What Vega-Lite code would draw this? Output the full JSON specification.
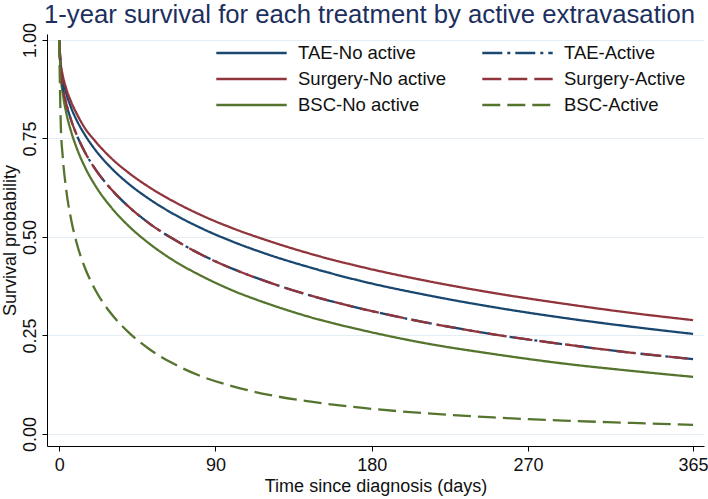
{
  "$schema": "https://vega.github.io/schema/vega-lite/v6.json",
  "width": 657,
  "height": 412,
  "autosize": {"type": "none"},
  "padding": {"left": 47, "top": 34, "right": 4, "bottom": 53},
  "background": "white",
  "title": {
    "text": "1-year survival for each treatment by active extravasation",
    "anchor": "start",
    "frame": "group",
    "font": "Liberation Sans",
    "fontSize": 25.7,
    "fontWeight": "normal",
    "color": "#1c2f5e",
    "baseline": "alphabetic",
    "offset": 9,
    "dx": -3,
    "dy": 35
  },
  "config": {
    "view": {"stroke": null},
    "axis": {
      "domainColor": "#000000",
      "domainWidth": 1,
      "tickColor": "#000000",
      "tickWidth": 1,
      "tickSize": 5,
      "labelFont": "Liberation Sans",
      "labelFontSize": 18,
      "labelColor": "#111111",
      "titleFont": "Liberation Sans",
      "titleFontSize": 18,
      "titleFontWeight": "normal",
      "titleColor": "#111111"
    }
  },
  "datasets": {
    "curves": [
      {"t":0,"s":1,"series":"TAE-No active"},{"t":1,"s":0.931,"series":"TAE-No active"},{"t":2,"s":0.904,"series":"TAE-No active"},{"t":4,"s":0.866,"series":"TAE-No active"},{"t":7,"s":0.827,"series":"TAE-No active"},{"t":10,"s":0.797,"series":"TAE-No active"},{"t":15,"s":0.758,"series":"TAE-No active"},{"t":21,"s":0.72,"series":"TAE-No active"},{"t":30,"s":0.675,"series":"TAE-No active"},{"t":40,"s":0.635,"series":"TAE-No active"},{"t":52,"s":0.596,"series":"TAE-No active"},{"t":66,"s":0.558,"series":"TAE-No active"},{"t":82,"s":0.522,"series":"TAE-No active"},{"t":100,"s":0.488,"series":"TAE-No active"},{"t":120,"s":0.456,"series":"TAE-No active"},{"t":145,"s":0.422,"series":"TAE-No active"},{"t":175,"s":0.387,"series":"TAE-No active"},{"t":210,"s":0.354,"series":"TAE-No active"},{"t":250,"s":0.322,"series":"TAE-No active"},{"t":290,"s":0.295,"series":"TAE-No active"},{"t":330,"s":0.272,"series":"TAE-No active"},{"t":365,"s":0.254,"series":"TAE-No active"},
      {"t":0,"s":1,"series":"Surgery-No active"},{"t":1,"s":0.937,"series":"Surgery-No active"},{"t":2,"s":0.912,"series":"Surgery-No active"},{"t":4,"s":0.878,"series":"Surgery-No active"},{"t":7,"s":0.842,"series":"Surgery-No active"},{"t":10,"s":0.814,"series":"Surgery-No active"},{"t":15,"s":0.775,"series":"Surgery-No active"},{"t":21,"s":0.742,"series":"Surgery-No active"},{"t":30,"s":0.7,"series":"Surgery-No active"},{"t":40,"s":0.663,"series":"Surgery-No active"},{"t":52,"s":0.626,"series":"Surgery-No active"},{"t":66,"s":0.59,"series":"Surgery-No active"},{"t":82,"s":0.555,"series":"Surgery-No active"},{"t":100,"s":0.522,"series":"Surgery-No active"},{"t":120,"s":0.491,"series":"Surgery-No active"},{"t":145,"s":0.457,"series":"Surgery-No active"},{"t":175,"s":0.423,"series":"Surgery-No active"},{"t":210,"s":0.39,"series":"Surgery-No active"},{"t":250,"s":0.358,"series":"Surgery-No active"},{"t":290,"s":0.331,"series":"Surgery-No active"},{"t":330,"s":0.307,"series":"Surgery-No active"},{"t":365,"s":0.289,"series":"Surgery-No active"},
      {"t":0,"s":1,"series":"BSC-No active"},{"t":1,"s":0.904,"series":"BSC-No active"},{"t":2,"s":0.867,"series":"BSC-No active"},{"t":4,"s":0.817,"series":"BSC-No active"},{"t":7,"s":0.766,"series":"BSC-No active"},{"t":10,"s":0.727,"series":"BSC-No active"},{"t":15,"s":0.676,"series":"BSC-No active"},{"t":21,"s":0.629,"series":"BSC-No active"},{"t":30,"s":0.575,"series":"BSC-No active"},{"t":40,"s":0.528,"series":"BSC-No active"},{"t":52,"s":0.483,"series":"BSC-No active"},{"t":66,"s":0.44,"series":"BSC-No active"},{"t":82,"s":0.401,"series":"BSC-No active"},{"t":100,"s":0.364,"series":"BSC-No active"},{"t":120,"s":0.331,"series":"BSC-No active"},{"t":145,"s":0.296,"series":"BSC-No active"},{"t":175,"s":0.263,"series":"BSC-No active"},{"t":210,"s":0.231,"series":"BSC-No active"},{"t":250,"s":0.203,"series":"BSC-No active"},{"t":290,"s":0.179,"series":"BSC-No active"},{"t":330,"s":0.16,"series":"BSC-No active"},{"t":365,"s":0.145,"series":"BSC-No active"},
      {"t":0,"s":1,"series":"TAE-Active"},{"t":1,"s":0.917,"series":"TAE-Active"},{"t":2,"s":0.884,"series":"TAE-Active"},{"t":4,"s":0.84,"series":"TAE-Active"},{"t":7,"s":0.795,"series":"TAE-Active"},{"t":10,"s":0.76,"series":"TAE-Active"},{"t":15,"s":0.714,"series":"TAE-Active"},{"t":21,"s":0.671,"series":"TAE-Active"},{"t":30,"s":0.621,"series":"TAE-Active"},{"t":40,"s":0.577,"series":"TAE-Active"},{"t":52,"s":0.534,"series":"TAE-Active"},{"t":66,"s":0.494,"series":"TAE-Active"},{"t":82,"s":0.455,"series":"TAE-Active"},{"t":100,"s":0.419,"series":"TAE-Active"},{"t":120,"s":0.386,"series":"TAE-Active"},{"t":145,"s":0.351,"series":"TAE-Active"},{"t":175,"s":0.317,"series":"TAE-Active"},{"t":210,"s":0.284,"series":"TAE-Active"},{"t":250,"s":0.253,"series":"TAE-Active"},{"t":290,"s":0.228,"series":"TAE-Active"},{"t":330,"s":0.206,"series":"TAE-Active"},{"t":365,"s":0.19,"series":"TAE-Active"},
      {"t":0,"s":1,"series":"Surgery-Active"},{"t":1,"s":0.917,"series":"Surgery-Active"},{"t":2,"s":0.884,"series":"Surgery-Active"},{"t":4,"s":0.84,"series":"Surgery-Active"},{"t":7,"s":0.795,"series":"Surgery-Active"},{"t":10,"s":0.76,"series":"Surgery-Active"},{"t":15,"s":0.714,"series":"Surgery-Active"},{"t":21,"s":0.671,"series":"Surgery-Active"},{"t":30,"s":0.621,"series":"Surgery-Active"},{"t":40,"s":0.577,"series":"Surgery-Active"},{"t":52,"s":0.534,"series":"Surgery-Active"},{"t":66,"s":0.494,"series":"Surgery-Active"},{"t":82,"s":0.455,"series":"Surgery-Active"},{"t":100,"s":0.419,"series":"Surgery-Active"},{"t":120,"s":0.386,"series":"Surgery-Active"},{"t":145,"s":0.351,"series":"Surgery-Active"},{"t":175,"s":0.317,"series":"Surgery-Active"},{"t":210,"s":0.284,"series":"Surgery-Active"},{"t":250,"s":0.253,"series":"Surgery-Active"},{"t":290,"s":0.228,"series":"Surgery-Active"},{"t":330,"s":0.206,"series":"Surgery-Active"},{"t":365,"s":0.19,"series":"Surgery-Active"},
      {"t":0,"s":1,"series":"BSC-Active"},{"t":1,"s":0.776,"series":"BSC-Active"},{"t":2,"s":0.707,"series":"BSC-Active"},{"t":4,"s":0.622,"series":"BSC-Active"},{"t":7,"s":0.542,"series":"BSC-Active"},{"t":10,"s":0.486,"series":"BSC-Active"},{"t":15,"s":0.42,"series":"BSC-Active"},{"t":21,"s":0.364,"series":"BSC-Active"},{"t":30,"s":0.305,"series":"BSC-Active"},{"t":40,"s":0.258,"series":"BSC-Active"},{"t":52,"s":0.215,"series":"BSC-Active"},{"t":66,"s":0.178,"series":"BSC-Active"},{"t":82,"s":0.146,"series":"BSC-Active"},{"t":100,"s":0.121,"series":"BSC-Active"},{"t":120,"s":0.1,"series":"BSC-Active"},{"t":145,"s":0.082,"series":"BSC-Active"},{"t":175,"s":0.066,"series":"BSC-Active"},{"t":210,"s":0.053,"series":"BSC-Active"},{"t":250,"s":0.042,"series":"BSC-Active"},{"t":290,"s":0.034,"series":"BSC-Active"},{"t":330,"s":0.028,"series":"BSC-Active"},{"t":365,"s":0.023,"series":"BSC-Active"}
    ]
  },
  "data": {"name": "curves"},
  "mark": {"type": "line", "strokeWidth": 2.3, "interpolate": "monotone"},
  "encoding": {
    "x": {
      "field": "t",
      "type": "quantitative",
      "scale": {"domain": [-7, 371.3], "nice": false, "zero": false},
      "axis": {
        "values": [0, 90, 180, 270, 365],
        "title": "Time since diagnosis (days)",
        "grid": false,
        "labelPadding": 5,
        "titlePadding": 3
      }
    },
    "y": {
      "field": "s",
      "type": "quantitative",
      "scale": {"domain": [-0.0305, 1.0152], "nice": false, "zero": false},
      "axis": {
        "values": [0, 0.25, 0.5, 0.75, 1],
        "format": ".2f",
        "title": "Survival probability",
        "grid": true,
        "gridColor": "#e4edf3",
        "gridWidth": 1,
        "labelAngle": 270,
        "labelAlign": "center",
        "labelBaseline": "alphabetic",
        "labelPadding": 7,
        "titlePadding": 2
      }
    },
    "color": {
      "field": "series",
      "type": "nominal",
      "scale": {
        "domain": ["TAE-No active", "Surgery-No active", "BSC-No active", "TAE-Active", "Surgery-Active", "BSC-Active"],
        "range": ["#1a476f", "#90353b", "#55752f", "#1a476f", "#90353b", "#55752f"]
      },
      "legend": {
        "orient": "none",
        "legendX": 169,
        "legendY": 9.5,
        "columns": 2,
        "title": null,
        "padding": 0,
        "symbolType": "M-4.4,0H4.4",
        "symbolSize": 256,
        "symbolStrokeWidth": 2.3,
        "symbolOffset": 26,
        "labelOffset": 37,
        "labelFont": "Liberation Sans",
        "labelFontSize": 18.5,
        "labelColor": "#111111",
        "labelLimit": 300,
        "rowPadding": 7,
        "columnPadding": 30
      }
    },
    "strokeDash": {
      "field": "series",
      "type": "nominal",
      "scale": {
        "domain": ["TAE-No active", "Surgery-No active", "BSC-No active", "TAE-Active", "Surgery-Active", "BSC-Active"],
        "range": [[1, 0], [1, 0], [1, 0], [20, 5, 3, 5], [19, 7], [18, 7]]
      }
    }
  }
}
